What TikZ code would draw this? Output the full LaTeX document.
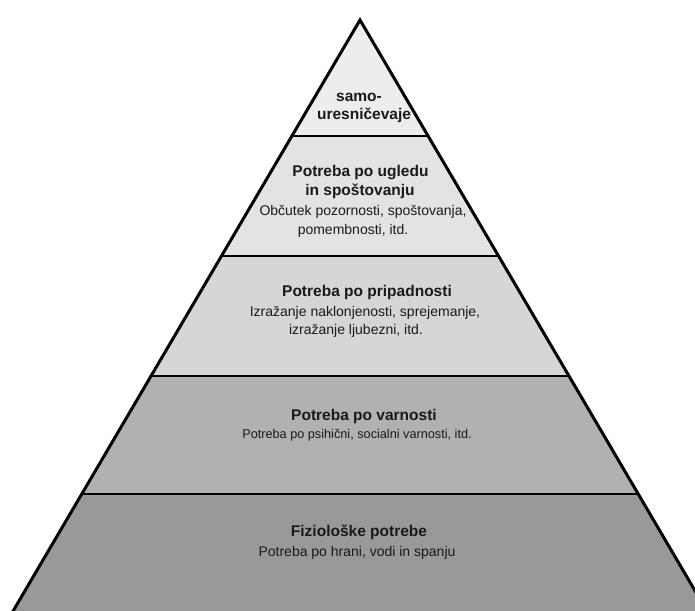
\documentclass[tikz,border=0pt]{standalone}
\usepackage{fontspec}
\setmainfont{Liberation Sans}
\definecolor{bandA}{HTML}{EDEDED}
\definecolor{bandB}{HTML}{E3E3E3}
\definecolor{bandC}{HTML}{D6D6D6}
\definecolor{bandD}{HTML}{B1B1B1}
\definecolor{bandE}{HTML}{999999}
\definecolor{txt}{HTML}{1A1A1A}
\tikzset{
  title/.style={anchor=base, inner sep=0pt, text=txt, font=\fontsize{15.5}{18}\selectfont\bfseries},
  body/.style={anchor=base, inner sep=0pt, text=txt, font=\fontsize{14}{17}\selectfont},
  edge/.style={line width=3pt, line join=miter, draw=black},
  divider/.style={line width=2.6pt, draw=black}
}
\begin{document}
\begin{tikzpicture}[x=1pt,y=-1pt]
\useasboundingbox (0,0) rectangle (695,610);
\clip (0,0) rectangle (695,610);
\coordinate (A) at (360,20);
\coordinate (L1) at (291.9,136); \coordinate (R1) at (428.1,136);
\coordinate (L2) at (221.5,256); \coordinate (R2) at (498.5,256);
\coordinate (L3) at (151,376);   \coordinate (R3) at (569,376);
\coordinate (L4) at (81.8,494);  \coordinate (R4) at (638.2,494);
\coordinate (L5) at (7.8,620);   \coordinate (R5) at (712.2,620);
% fills
\fill[bandA] (A) -- (R1) -- (L1) -- cycle;
\fill[bandB] (L1) -- (R1) -- (R2) -- (L2) -- cycle;
\fill[bandC] (L2) -- (R2) -- (R3) -- (L3) -- cycle;
\fill[bandD] (L3) -- (R3) -- (R4) -- (L4) -- cycle;
\fill[bandE] (L4) -- (R4) -- (R5) -- (L5) -- cycle;
% dividers
\draw[divider] (L1) -- (R1);
\draw[divider] (L2) -- (R2);
\draw[divider] (L3) -- (R3);
\draw[divider] (L4) -- (R4);
% outline
\draw[edge] (L5) -- (A) -- (R5);
% texts
\node[title] (t1a) at (359,101.7) {samo-};
\node[title] (t1b) at (364,119.3) {uresničevaje};
\node[title] (t2a) at (360.5,176.7) {Potreba po ugledu};
\node[title] (t2b) at (360,195) {in spoštovanju};
\node[body] (t2c) at (363,215.7) {Občutek pozornosti, spoštovanja,};
\node[body] (t2d) at (353,234) {pomembnosti, itd.};
\node[title] (t3a) at (367,296) {Potreba po pripadnosti};
\node[body] (t3b) at (365,316.7) {Izražanje naklonjenosti, sprejemanje,};
\node[body] (t3c) at (356,334.5) {izražanje ljubezni, itd.};
\node[title] (t4a) at (364,420.7) {Potreba po varnosti};
\node[body, font=\fontsize{12.7}{15}\selectfont] (t4b) at (357,438.5) {Potreba po psihični, socialni varnosti, itd.};
\node[title] (t5a) at (359,536.7) {Fiziološke potrebe};
\node[body] (t5b) at (357,556) {Potreba po hrani, vodi in spanju};
\end{tikzpicture}
\end{document}
